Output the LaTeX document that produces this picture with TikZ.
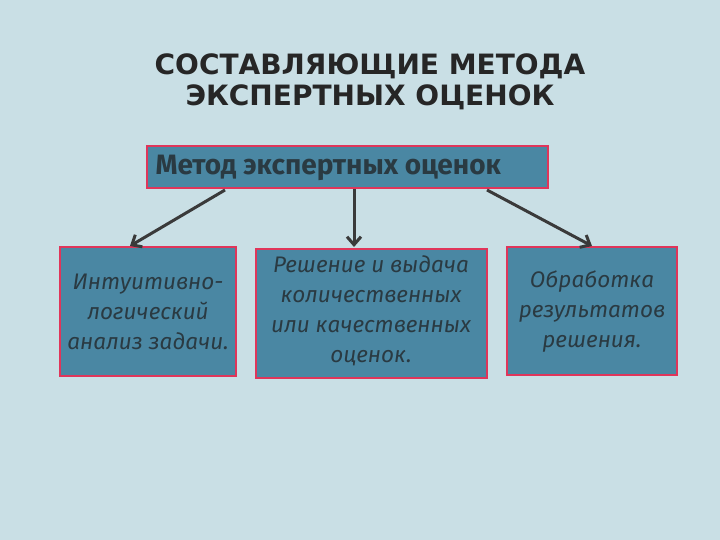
\documentclass[tikz,border=0pt]{standalone}
\usepackage{fontspec}
\usetikzlibrary{arrows.meta}
\setmainfont{Fira Sans}
\newfontfamily\titlefont{DejaVu Sans}
\definecolor{bg}{HTML}{C9DFE5}
\definecolor{boxfill}{HTML}{4A87A3}
\definecolor{boxline}{HTML}{E0355A}
\definecolor{txt}{HTML}{2A3A42}
\definecolor{arr}{HTML}{3A3A3A}
\begin{document}
\begin{tikzpicture}[x=1pt,y=-1pt,
  box/.style={draw=boxline,line width=1.5pt,fill=boxfill,inner sep=0pt},
  btext/.style={text=txt,font=\itshape\fontsize{22.5}{30}\selectfont,align=center},
  conn/.style={draw=arr,line width=3pt,-{Straight Barb[length=8pt,width=14pt]}}]
\fill[bg] (0,0) rectangle (720,540);
\useasboundingbox (0,0) rectangle (720,540);
\node[text=black!85,font=\titlefont\bfseries\fontsize{28}{31}\selectfont,align=center] (title) at (370,82) {СОСТАВЛЯЮЩИЕ МЕТОДА\\ЭКСПЕРТНЫХ ОЦЕНОК};
\path[box] (147,146) rectangle (548,188);
\node[anchor=west,text=txt,font=\fontsize{28}{30}\selectfont\fontseries{sb}\selectfont] (top) at (152,168) {Метод экспертных оценок};
\path[box] (60,247) rectangle (236,376);
\path[box] (256,249) rectangle (487,378);
\path[box] (507,247) rectangle (677,375);
\node[btext] (l) at (148,312) {Интуитивно-\\логический\\анализ задачи.};
\node[btext] (m) at (371,311) {Решение и выдача\\количественных\\или качественных\\оценок.};
\node[btext] (r) at (592,312) {Обработка\\результатов\\решения.};
\coordinate (a1) at (225,190); \coordinate (b1) at (130,246);
\coordinate (a2) at (354,189); \coordinate (b2) at (354,247);
\coordinate (a3) at (487,190); \coordinate (b3) at (592,246);
\draw[conn] (a1) -- (b1);
\draw[conn] (a2) -- (b2);
\draw[conn] (a3) -- (b3);
\end{tikzpicture}
\end{document}
